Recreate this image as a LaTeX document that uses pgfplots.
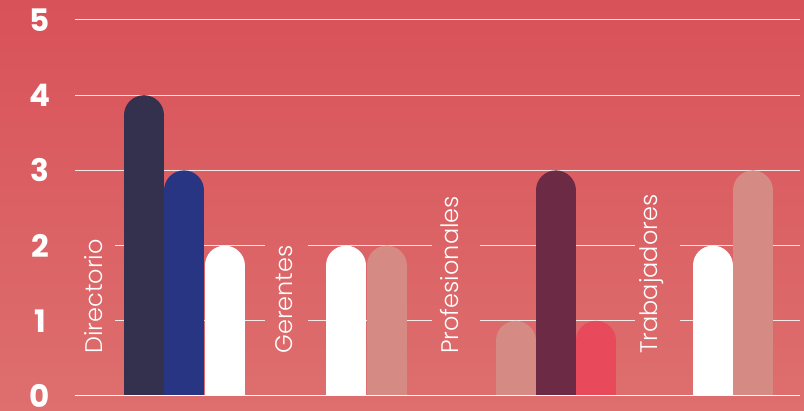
\documentclass[border=0pt]{standalone}
\usepackage{pgfplots}
\pgfplotsset{compat=1.18}
\usepackage{fontspec}
\setmainfont{Poppins}
\newfontfamily\labelfont{Poppins}[UprightFont=* Light]

\definecolor{bgtop}{RGB}{216,82,89}
\definecolor{bgbot}{RGB}{222,111,110}
\definecolor{cnavy}{RGB}{51,49,78}
\definecolor{cblue}{RGB}{40,53,131}
\definecolor{cpink}{RGB}{214,138,132}
\definecolor{cmaroon}{RGB}{108,42,69}
\definecolor{cred}{RGB}{232,74,91}

\tikzset{
  guide/.style={white, opacity=0.85, line width=1pt},
  cat/.style={rotate=90, anchor=base west, inner sep=0pt, text=white,
    font=\labelfont\fontsize{24}{24}\selectfont},
}
\pgfplotsset{bar/.style={line width=40pt, line cap=round, shorten >=20pt, no marks}}

\begin{document}
\begin{tikzpicture}[x=1pt,y=1pt]
% background
\shade[top color=bgtop, bottom color=bgbot] (0,0) rectangle (804,411);
\begin{axis}[
  at={(75pt,15pt)}, anchor=south west,
  scale only axis, width=725pt, height=376pt,
  xmin=75, xmax=800, ymin=0, ymax=5,
  axis line style={draw=none},
  xtick=\empty,
  ytick={0,1,2,3,4,5},
  yticklabels={0,1,2,3,4,5},
  major tick length=0pt,
  yticklabel style={anchor=center, xshift=-35pt, inner sep=0pt,
    font=\fontsize{31}{31}\selectfont\bfseries, text=white},
  /pgf/number format/assume math mode=true,
]
% horizontal guide lines, interrupted where the category names sit
\draw[guide] (axis cs:75,3) -- (axis cs:800,3);
\draw[guide] (axis cs:75,4) -- (axis cs:800,4);
\draw[guide] (axis cs:75,5) -- (axis cs:800,5);
\pgfplotsinvokeforeach{1,2}{
  \draw[guide] (axis cs:115,#1) -- (axis cs:265,#1);
  \draw[guide] (axis cs:308,#1) -- (axis cs:432,#1);
  \draw[guide] (axis cs:480,#1) -- (axis cs:635,#1);
  \draw[guide] (axis cs:680,#1) -- (axis cs:800,#1);
}

% Directorio
\addplot[bar, cnavy]  coordinates {(144,0) (144,4)};
\addplot[bar, cblue]  coordinates {(184,0) (184,3)};
\addplot[bar, white]  coordinates {(224.5,0) (224.5,2)};
% Gerentes
\addplot[bar, white]  coordinates {(346,0) (346,2)};
\addplot[bar, cpink]  coordinates {(386.5,0) (386.5,2)};
% Profesionales
\addplot[bar, cpink]  coordinates {(515.5,0) (515.5,1)};
\addplot[bar, cmaroon] coordinates {(555.7,0) (555.7,3)};
\addplot[bar, cred]   coordinates {(596,0) (596,1)};
% Trabajadores
\addplot[bar, white]  coordinates {(712.7,0) (712.7,2)};
\addplot[bar, cpink]  coordinates {(752.7,0) (752.7,3)};

% baseline
\draw[white, line width=2pt] (axis cs:75,0) -- (axis cs:800,0);

% category names
\node[cat] at (axis cs:102,0.56) {Directorio};
\node[cat] at (axis cs:292,0.56) {Gerentes};
\node[cat] at (axis cs:458,0.56) {Profesionales};
\node[cat] at (axis cs:657,0.56) {Trabajadores};
\end{axis}
\pgfresetboundingbox
\path (0,0) rectangle (804,411);
\end{tikzpicture}
\end{document}
